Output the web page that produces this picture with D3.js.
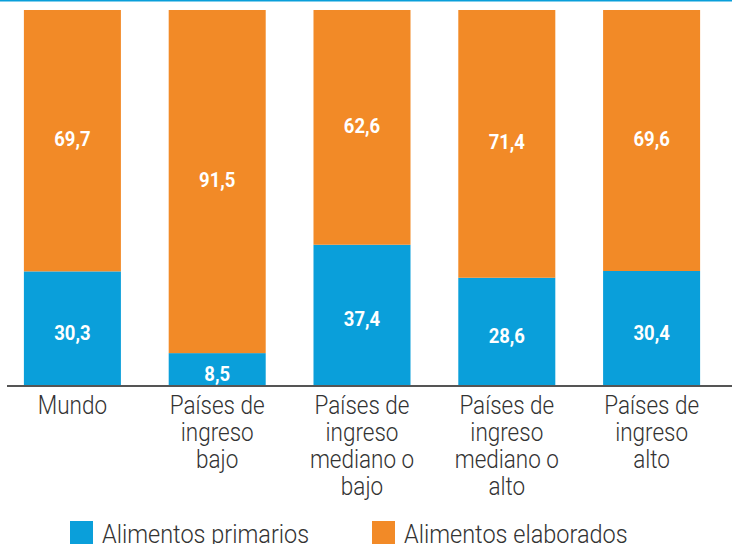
<!DOCTYPE html>
<html>
<head>
<meta charset="utf-8">
<script src="https://cdn.jsdelivr.net/npm/d3@7"></script>
<style>
  html, body { margin: 0; padding: 0; background: #fff; }
  svg { display: block; }
  .val { font-family: Roboto, sans-serif; font-weight: 700; font-size: 21px; fill: #fff; }
  .cat, .leg { font-family: Roboto, sans-serif; font-weight: 300; font-size: 25px; fill: #333; }
</style>
</head>
<body>
<svg id="chart"></svg>
<script>
// categories (multi-line labels)
const categories = ['Mundo', 'Países de ingreso bajo', 'Países de ingreso mediano o bajo', 'Países de ingreso mediano o alto', 'Países de ingreso alto'];
const categoryLines = [
    ['Mundo'],
    ['Países de', 'ingreso', 'bajo'],
    ['Países de', 'ingreso', 'mediano o', 'bajo'],
    ['Países de', 'ingreso', 'mediano o', 'alto'],
    ['Países de', 'ingreso', 'alto']
];
const primarios = [30.3, 8.5, 37.4, 28.6, 30.4];
const elaborados = [69.7, 91.5, 62.6, 71.4, 69.6];
const seriesNames = ['Alimentos primarios', 'Alimentos elaborados'];
const colors = ['#0a9fda', '#f28a27'];

(function() {
    'use strict';

    const width = 732, height = 544;
    const baseY = 385, topY = 10;

    const svg = d3.select('#chart')
        .attr('width', width)
        .attr('height', height);

    // thin blue rule at the very top
    svg.append('rect')
        .attr('x', 0).attr('y', 0)
        .attr('width', width).attr('height', 1.5)
        .attr('fill', colors[0]);

    const xScale = d3.scaleBand()
        .domain(categories)
        .range([0, 724])
        .paddingInner(0.33)
        .paddingOuter(0.165);

    const yScale = d3.scaleLinear()
        .domain([0, 100])
        .range([baseY, topY]);

    const rows = categories.map((c, i) => ({ cat: c, primarios: primarios[i], elaborados: elaborados[i] }));
    const stacked = d3.stack().keys(['primarios', 'elaborados'])(rows);

    const layers = svg.selectAll('.layer')
        .data(stacked)
        .enter()
        .append('g')
        .attr('class', 'layer')
        .attr('fill', (d, i) => colors[i]);

    layers.selectAll('rect')
        .data(d => d)
        .enter()
        .append('rect')
        .attr('x', d => xScale(d.data.cat))
        .attr('y', d => yScale(d[1]))
        .attr('width', xScale.bandwidth())
        .attr('height', d => yScale(d[0]) - yScale(d[1]));

    // value labels (slightly condensed, blue ones sit a bit low)
    const labelShift = { primarios: 4, elaborados: -2 };
    layers.selectAll('text')
        .data(d => d.map(s => ({ s: s, key: d.key })))
        .enter()
        .append('text')
        .attr('class', 'val')
        .attr('transform', d => {
            const x = xScale(d.s.data.cat) + xScale.bandwidth() / 2;
            const y = (yScale(d.s[0]) + yScale(d.s[1])) / 2 + labelShift[d.key];
            return `translate(${x}, ${y}) scale(0.88, 1)`;
        })
        .attr('dy', '0.36em')
        .attr('text-anchor', 'middle')
        .text(d => d3.format('.1f')(d.s.data[d.key]).replace('.', ','));

    // baseline
    svg.append('line')
        .attr('x1', 7).attr('x2', width)
        .attr('y1', baseY + 1).attr('y2', baseY + 1)
        .attr('stroke', '#555')
        .attr('stroke-width', 2);

    // category labels (condensed look)
    categories.forEach((c, i) => {
        const cx = xScale(c) + xScale.bandwidth() / 2;
        const g = svg.append('g')
            .attr('transform', `translate(${cx}, 0) scale(0.9, 1)`);
        categoryLines[i].forEach((line, j) => {
            g.append('text')
                .attr('class', 'cat')
                .attr('x', 0)
                .attr('y', 414 + j * 27)
                .attr('text-anchor', 'middle')
                .text(line);
        });
    });

    // legend (text runs off the bottom edge, as in the original)
    const legendX = [70, 372];
    seriesNames.forEach((name, i) => {
        svg.append('rect')
            .attr('x', legendX[i]).attr('y', 521)
            .attr('width', 23).attr('height', 23)
            .attr('fill', colors[i]);
        svg.append('g')
            .attr('transform', `translate(${legendX[i] + 32}, 0) scale(0.94, 1)`)
            .append('text')
            .attr('class', 'leg')
            .attr('x', 0)
            .attr('y', 543)
            .text(name);
    });
})();
</script>
</body>
</html>
